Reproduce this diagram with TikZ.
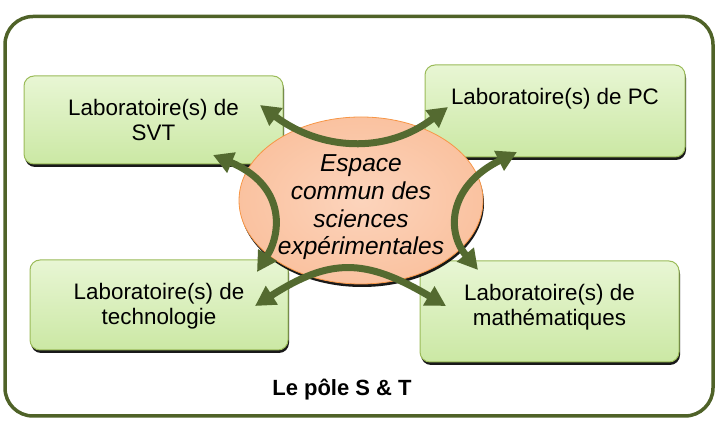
\documentclass[tikz,border=0pt]{standalone}
\usepackage{fontspec}
\setmainfont{Liberation Sans}
\usetikzlibrary{arrows.meta,shadows,shapes.geometric}
\definecolor{poleframe}{HTML}{4F6228}
\definecolor{linkgreen}{HTML}{546A30}
\definecolor{labborder}{HTML}{9BBB59}
\definecolor{labtop}{HTML}{E8F6D4}
\definecolor{labbottom}{HTML}{CBE8A4}
\definecolor{espinner}{HTML}{FCD4BC}
\definecolor{espouter}{HTML}{FAC2A0}
\definecolor{espborder}{HTML}{F79646}

\begin{document}
\begin{tikzpicture}[x=1pt,y=-1pt,
	labbox/.style={draw=labborder, line width=1pt, rounded corners=10pt,
		top color=labtop, bottom color=labbottom, inner sep=0pt,
		drop shadow={shadow xshift=1pt, shadow yshift=-3pt, opacity=0.9, fill=black}},
	labtext/.style={anchor=base, align=center, font=\fontsize{22.4}{25}\selectfont},
	link/.style={line width=7pt, draw=linkgreen,
		{Triangle[length=20pt,width=21pt]}-{Triangle[length=20pt,width=21pt]}}]
	\useasboundingbox (0,0) rectangle (723,427);
	\draw[poleframe, line width=3.5pt, rounded corners=28pt] (5,16.5) rectangle (713,416);

	\node[labbox, minimum width=259pt, minimum height=88pt] (svt) at (153.5,120) {};
	\node[labbox, minimum width=260pt, minimum height=92pt] (pc) at (555,111) {};
	\node[labbox, minimum width=258pt, minimum height=90pt] (techno) at (159,305) {};
	\node[labbox, minimum width=259pt, minimum height=101pt] (maths) at (549.5,311.5) {};
	\node[labtext] (svtT) at ([yshift=-65.5pt]svt.north) {Laboratoire(s) de\\SVT};
	\node[labtext] (pcT) at ([yshift=-40.5pt]pc.north) {Laboratoire(s) de PC};
	\node[labtext] (technoT) at ([yshift=-65.5pt]techno.north) {Laboratoire(s) de\\technologie};
	\node[labtext] (mathsT) at ([yshift=-65pt]maths.north) {Laboratoire(s) de\\mathématiques};

	\node[ellipse, draw=espborder, line width=0.8pt, inner sep=0pt,
		minimum width=244pt, minimum height=167pt,
		inner color=espinner, outer color=espouter,
		drop shadow={shadow xshift=1pt, shadow yshift=-3pt, opacity=0.9, fill=black}] (esp) at (361,200.5) {};
	\node[anchor=base, align=center, font=\fontsize{24.5}{27.8}\selectfont\itshape] (espT)
		at ([yshift=-54.5pt]esp.center) {Espace\\commun des\\sciences\\expérimentales};

	\node[anchor=base, font=\fontsize{22}{26}\selectfont\bfseries] (pole) at (342,396) {Le pôle S \& T};

	\coordinate (svtA) at (260,105);
	\coordinate (pcA) at (448,107);
	\coordinate (svtB) at (213,155);
	\coordinate (technoA) at (257,272);
	\coordinate (pcB) at (517,152);
	\coordinate (mathsA) at (478,270);
	\coordinate (technoB) at (255,306);
	\coordinate (mathsB) at (446,306);
	\draw[link] (svtA) .. controls (320,150) and (385,155) .. (pcA);
	\draw[link] (svtB) .. controls (285,185) and (282,232) .. (technoA);
	\draw[link] (pcB) .. controls (450,185) and (445,230) .. (mathsA);
	\draw[link] (technoB) .. controls (330,258) and (365,258) .. (mathsB);
\end{tikzpicture}
\end{document}
